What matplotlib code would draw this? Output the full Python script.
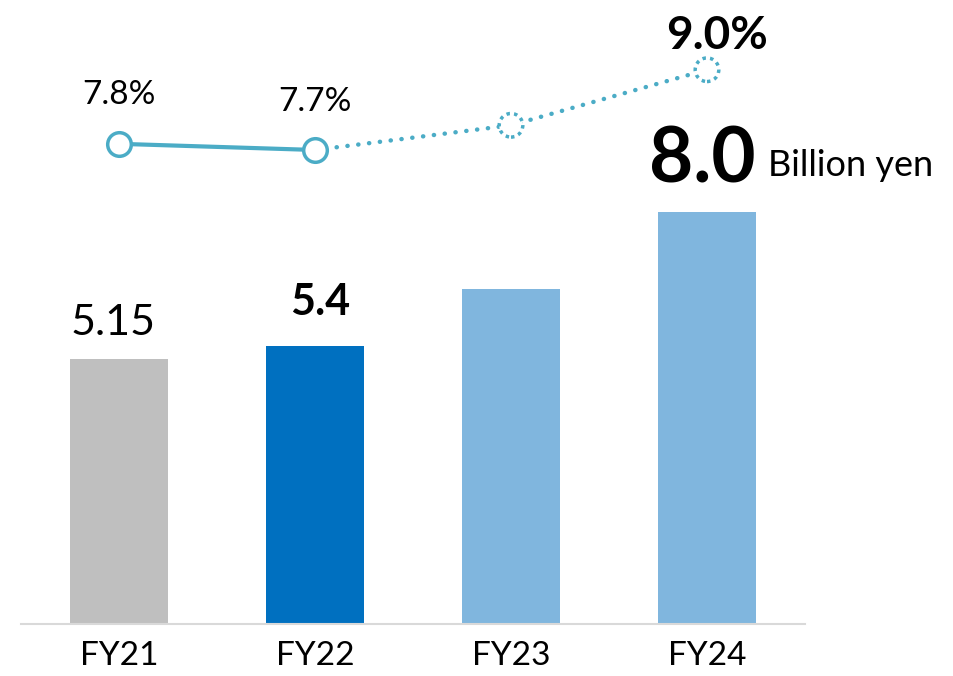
import matplotlib

matplotlib.use("Agg")
import matplotlib.pyplot as plt  # noqa: E402

plt.rcParams["font.family"] = ["Lato", "DejaVu Sans"]

years = ["FY21", "FY22", "FY23", "FY24"]
sales = [5.15, 5.4, 6.5, 8.0]          # billion yen
margin = [7.8, 7.7, 8.1, 9.0]          # %
bar_colors = ["#BFBFBF", "#0070C0", "#80B6DE", "#80B6DE"]
line_color = "#4BACC6"

fig = plt.figure(figsize=(9.54, 6.76), dpi=100)
ax = fig.add_axes([21 / 954, 52 / 676, 784 / 954, 624 / 676])
x = list(range(len(years)))
ax.bar(x, sales, width=0.5, color=bar_colors, zorder=2)
ax.set_xlim(-0.5, 3.5)
ax.set_ylim(0, 12.12)
for s in ("top", "left", "right"):
    ax.spines[s].set_visible(False)
ax.spines["bottom"].set_color("#D9D9D9")
ax.spines["bottom"].set_linewidth(1.5)
ax.set_yticks([])
ax.set_xticks(x)
ax.set_xticklabels(years, fontsize=24)
ax.tick_params(axis="x", length=0, pad=12)

# bar labels
ax.annotate("5.15", (x[0], sales[0]), xytext=(-6, 24), textcoords="offset pixels",
            ha="center", va="baseline", fontsize=31)
ax.annotate("5.4", (x[1], sales[1]), xytext=(5, 31), textcoords="offset pixels",
            ha="center", va="baseline", fontsize=31, fontweight="bold")
ax.annotate("8.0", (x[3], sales[3]), xytext=(-5, 30), textcoords="offset pixels",
            ha="center", va="baseline", fontsize=55, fontweight="bold")
ax.annotate("Billion yen", (x[3], sales[3]), xytext=(61, 36), textcoords="offset pixels",
            ha="left", va="baseline", fontsize=26)

# operating margin line on its own scale
ax2 = ax.twinx()
ax2.set_ylim(0.02, 10.13)
ax2.axis("off")
ax2.plot(x[:2], margin[:2], color=line_color, lw=3, solid_capstyle="round", zorder=2)
ax2.plot(x[1:], margin[1:], color=line_color, lw=3.2, ls=(0, (0.05, 2.4)),
         dash_capstyle="round", zorder=2)
ax2.plot(x[:2], margin[:2], "o", ms=17, mfc="white", mec=line_color, mew=2.5, zorder=3)
ax2.scatter(x[2:], margin[2:], s=17 ** 2, facecolor="white", edgecolor=line_color,
            linewidths=2.5, linestyles=(0, (1, 1.2)), zorder=3)

ax2.annotate("7.8%", (x[0], margin[0]), xytext=(0, 40), textcoords="offset pixels",
             ha="center", va="baseline", fontsize=24)
ax2.annotate("7.7%", (x[1], margin[1]), xytext=(0, 39), textcoords="offset pixels",
             ha="center", va="baseline", fontsize=24)
ax2.annotate("9.0%", (x[3], margin[3]), xytext=(10, 21), textcoords="offset pixels",
             ha="center", va="baseline", fontsize=33, fontweight="bold")

fig.savefig("out.png", dpi=100)
